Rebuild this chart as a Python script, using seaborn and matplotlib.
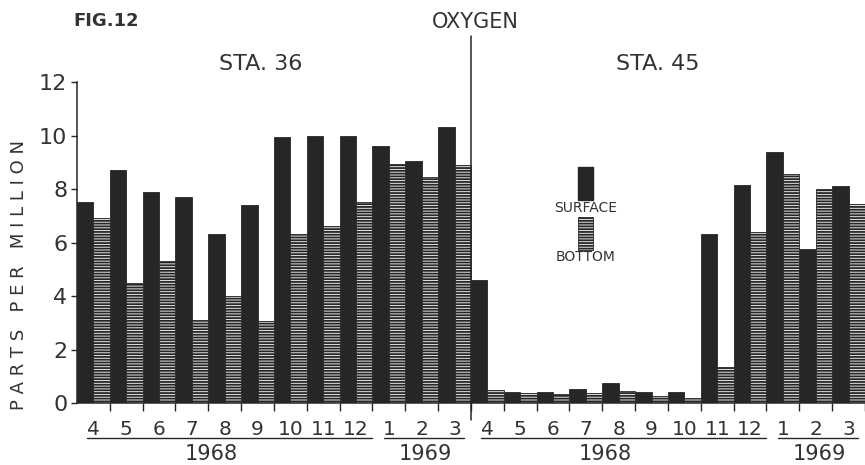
import numpy as np
import pandas as pd
import seaborn as sns
import matplotlib.pyplot as plt
from matplotlib.patches import Rectangle

# months Apr 1968 - Mar 1969 for each station
months = ["4", "5", "6", "7", "8", "9", "10", "11", "12", "1", "2", "3"]
stations = ["STA. 36", "STA. 45"]

sta36_surface = [7.5, 8.7, 7.9, 7.7, 6.3, 7.4, 9.95, 10.0, 10.0, 9.6, 9.05, 10.3]
sta36_bottom = [6.9, 4.5, 5.3, 3.1, 4.0, 3.05, 6.3, 6.6, 7.5, 8.95, 8.45, 8.9]
sta45_surface = [4.6, 0.4, 0.42, 0.52, 0.74, 0.42, 0.42, 6.3, 8.15, 9.4, 5.75, 8.1]
sta45_bottom = [0.5, 0.37, 0.33, 0.36, 0.45, 0.27, 0.2, 1.35, 6.4, 8.55, 8.0, 7.45]

ink = "#262626"
txt = "#333333"

rows = []
for s, (surf, bot) in enumerate([(sta36_surface, sta36_bottom), (sta45_surface, sta45_bottom)]):
    for i, m in enumerate(months):
        slot = s * len(months) + i
        rows.append({"slot": slot, "depth": "SURFACE", "ppm": surf[i]})
        rows.append({"slot": slot, "depth": "BOTTOM", "ppm": bot[i]})
df = pd.DataFrame(rows)

sns.set_theme(style="ticks")
plt.rcParams["font.family"] = ["DejaVu Sans"]
plt.rcParams["hatch.linewidth"] = 1.3
plt.rcParams["hatch.color"] = ink

fig = plt.figure(figsize=(8.65, 4.65), dpi=100)
ax = fig.add_axes([0.089, 0.1333, 0.911, 0.6903])

sns.barplot(data=df, x="slot", y="ppm", hue="depth", hue_order=["SURFACE", "BOTTOM"],
            palette=[ink, "#e6e6e6"], saturation=1, width=1.0, dodge=True,
            edgecolor=ink, linewidth=0.6, legend=False, ax=ax)
for bar in ax.containers[1]:
    bar.set_hatch("------")

n = len(months)
ax.set_xlim(-0.5, 23.3)
ax.set_ylim(0, 12)
ax.set_yticks(range(0, 13, 2))
ax.set_yticklabels([str(v) for v in range(0, 13, 2)], fontsize=16, color=txt)
ax.set_xticks(range(2 * n))
ax.set_xticklabels(months * 2, fontsize=14.5, color=txt)
ax.set_xticks(np.arange(0.5, 2 * n, 1.0), minor=True)
ax.tick_params(axis="x", which="major", length=0, pad=12)
ax.tick_params(axis="x", which="minor", length=6, width=1, color=ink, direction="out")
ax.tick_params(axis="y", length=4, width=1, color=ink, pad=3)
ax.set_xlabel("")
ax.set_ylabel("P A R T S   P E R   M I L L I O N", fontsize=13, color=txt)
ax.yaxis.set_label_coords(-0.062, 0.40)
sns.despine(ax=ax, top=True, right=True)
for sp in ["left", "bottom"]:
    ax.spines[sp].set_color(ink)
    ax.spines[sp].set_linewidth(1.1)

# station separator
ax.axvline(n - 0.5, ymin=-0.053, ymax=1.143, color=ink, lw=1.1, clip_on=False)

# year underlines and labels
xt = ax.get_xaxis_transform()
for s in range(2):
    base = s * n
    spans = [(base - 0.2, base + 8.5), (base + 8.85, min(base + 11.3, 23.3))]
    for x0, x1 in spans:
        ax.plot([x0, x1], [-0.109, -0.109], color=ink, lw=1.0, transform=xt, clip_on=False)
    ax.text(base + 3.6, -0.178, "1968", transform=xt, ha="center", va="baseline",
            fontsize=15, color=txt)
    ax.text(base + 10.1, -0.178, "1969", transform=xt, ha="center", va="baseline",
            fontsize=15, color=txt)

# station titles
ax.text(5.1, 1.057, stations[0], transform=xt, ha="center", va="center",
        fontsize=16, color=txt)
ax.text(17.2, 1.057, stations[1], transform=xt, ha="center", va="center",
        fontsize=16, color=txt)

# figure header
fig.text(0.085, 0.955, "FIG.12", fontsize=13, fontweight="bold", color=txt, ha="left", va="center")
fig.text(0.549, 0.952, "OXYGEN", fontsize=15, color=txt, ha="center", va="center")

# legend key drawn inside the right panel
ax.add_patch(Rectangle((14.76, 7.6), 0.45, 1.22, facecolor=ink, edgecolor=ink))
ax.text(15.0, 7.28, "SURFACE", ha="center", va="center", fontsize=10, color=txt)
ax.add_patch(Rectangle((14.76, 5.72), 0.45, 1.22, facecolor="#e6e6e6", edgecolor=ink,
                       hatch="------", lw=0.6))
ax.text(15.0, 5.47, "BOTTOM", ha="center", va="center", fontsize=10, color=txt)

fig.savefig("out.png", dpi=100)
